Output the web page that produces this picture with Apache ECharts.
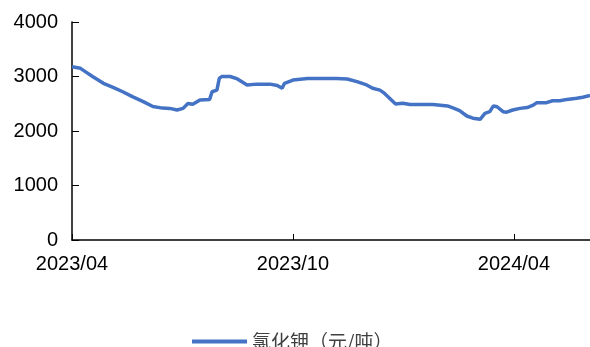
<!DOCTYPE html>
<html>
<head>
<meta charset="utf-8">
<script src="https://cdn.jsdelivr.net/npm/echarts@6/dist/echarts.min.js"></script>
<style>
  html, body { margin: 0; padding: 0; background: #fff; }
  #chart { width: 590px; height: 347px; }
</style>
</head>
<body>
<div id="chart"></div>
<script>
// 氯化钾价格（元/吨）
const dates = [
  '2023-04-01','2023-04-08','2023-04-12','2023-04-18','2023-04-27','2023-05-05',
  '2023-05-13','2023-05-21','2023-05-30','2023-06-07','2023-06-15','2023-06-21',
  '2023-06-27','2023-07-02','2023-07-06','2023-07-10','2023-07-16','2023-07-24',
  '2023-07-26','2023-07-30','2023-08-01','2023-08-03','2023-08-10','2023-08-16',
  '2023-08-24','2023-09-01','2023-09-12','2023-09-18','2023-09-22','2023-09-24',
  '2023-10-01','2023-10-13','2023-10-23','2023-11-06','2023-11-15','2023-11-23',
  '2023-12-01','2023-12-06','2023-12-12','2023-12-15','2023-12-20','2023-12-25',
  '2023-12-31','2024-01-06','2024-01-25','2024-02-06','2024-02-11','2024-02-16',
  '2024-02-22','2024-02-27','2024-03-04','2024-03-08','2024-03-12','2024-03-15',
  '2024-03-18','2024-03-23','2024-03-26','2024-03-31','2024-04-06','2024-04-12',
  '2024-04-17','2024-04-20','2024-04-28','2024-05-03','2024-05-09','2024-05-15',
  '2024-05-23','2024-05-28','2024-06-03'
];
const prices = [
  3180, 3150, 3090, 3000, 2875, 2800,
  2720, 2630, 2540, 2450, 2420, 2415,
  2385, 2415, 2505, 2490, 2570, 2580,
  2720, 2750, 2965, 3000, 3000, 2955,
  2845, 2860, 2860, 2835, 2785, 2875,
  2935, 2965, 2965, 2965, 2955, 2905,
  2845, 2785, 2750, 2705, 2600, 2495,
  2510, 2485, 2485, 2460, 2420, 2375,
  2275, 2235, 2215, 2325, 2355, 2460,
  2445, 2355, 2345, 2385, 2415, 2430,
  2475, 2520, 2520, 2555, 2555, 2580,
  2600, 2620, 2650
];
const xTicks = ['2023-04-01', '2023-10-01', '2024-04-01'];
const xStart = '2023-04-01';
const xEnd = '2024-06-03';
const yTicks = [0, 1000, 2000, 3000, 4000];
const seriesName = '氯化钾（元/吨）';

// The x axis counts days from the first date (UTC, so no DST drift).
const DAY = 86400000;
const utc = s => { const p = s.split('-').map(Number); return Date.UTC(p[0], p[1] - 1, p[2]); };
const day0 = utc(xStart);
const toDay = s => Math.round((utc(s) - day0) / DAY);
const pad = n => (n < 10 ? '0' : '') + n;
const dayLabel = v => {
  const d = new Date(day0 + Math.round(v) * DAY);
  return d.getUTCFullYear() + '/' + pad(d.getUTCMonth() + 1);
};

const chart = echarts.init(document.getElementById('chart'), null, { renderer: 'canvas' });
chart.setOption({
  animation: false,
  backgroundColor: '#ffffff',
  grid: { left: 72, right: 0, top: 22, bottom: 107, containLabel: false },
  xAxis: {
    type: 'value',
    min: 0,
    max: toDay(xEnd),
    axisLine: { show: true, lineStyle: { color: '#000', width: 1.5 } },
    axisTick: {
      show: true, inside: true, length: 6,
      lineStyle: { color: '#000', width: 1 },
      customValues: xTicks.map(toDay)
    },
    axisLabel: {
      customValues: xTicks.map(toDay),
      color: '#000',
      fontFamily: 'Liberation Sans, Arial, sans-serif',
      fontSize: 20,
      margin: 14,
      formatter: dayLabel
    },
    splitLine: { show: false }
  },
  yAxis: {
    type: 'value',
    min: yTicks[0],
    max: yTicks[yTicks.length - 1],
    interval: 1000,
    axisLine: { show: true, lineStyle: { color: '#000', width: 1.5 } },
    axisTick: { show: true, inside: true, length: 7, lineStyle: { color: '#000', width: 1 } },
    axisLabel: {
      color: '#000',
      fontFamily: 'Liberation Sans, Arial, sans-serif',
      fontSize: 20,
      margin: 14,
      formatter: v => String(v)
    },
    splitLine: { show: false }
  },
  legend: {
    top: 327,
    left: 187,
    icon: 'rect',
    itemWidth: 55,
    itemHeight: 4,
    itemGap: 8,
    textStyle: {
      color: '#404040',
      fontFamily: 'Noto Sans CJK SC',
      fontSize: 19
    },
    data: [seriesName]
  },
  series: [{
    name: seriesName,
    type: 'line',
    data: dates.map((d, i) => [toDay(d), prices[i]]),
    showSymbol: false,
    symbol: 'none',
    lineStyle: { color: '#4472C4', width: 3.5 },
    itemStyle: { color: '#4472C4' }
  }]
});
</script>
</body>
</html>
